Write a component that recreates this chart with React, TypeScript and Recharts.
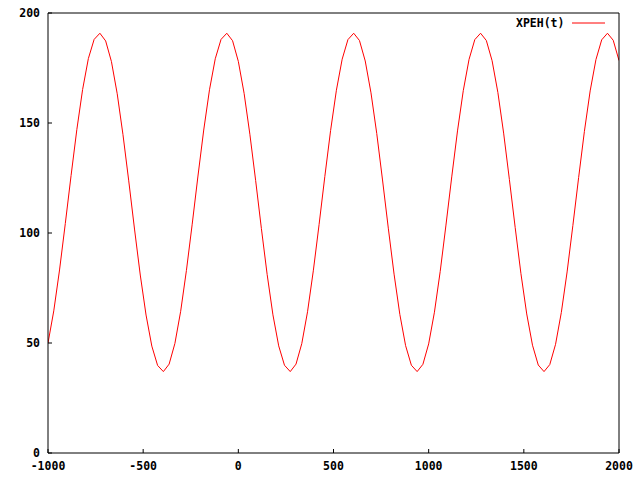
import React from 'react';
import { LineChart, Line, XAxis, YAxis } from 'recharts';

// sample positions (gnuplot default: 100 samples over the x range)
const xSamples = [
    -1000, -969.7, -939.4, -909.1, -878.8, -848.5, -818.2, -787.9, -757.6, -727.3,
    -697.0, -666.7, -636.4, -606.1, -575.8, -545.5, -515.2, -484.8, -454.5, -424.2,
    -393.9, -363.6, -333.3, -303.0, -272.7, -242.4, -212.1, -181.8, -151.5, -121.2,
    -90.9, -60.6, -30.3, 0, 30.3, 60.6, 90.9, 121.2, 151.5, 181.8,
    212.1, 242.4, 272.7, 303.0, 333.3, 363.6, 393.9, 424.2, 454.5, 484.8,
    515.2, 545.5, 575.8, 606.1, 636.4, 666.7, 697.0, 727.3, 757.6, 787.9,
    818.2, 848.5, 878.8, 909.1, 939.4, 969.7, 1000, 1030.3, 1060.6, 1090.9,
    1121.2, 1151.5, 1181.8, 1212.1, 1242.4, 1272.7, 1303.0, 1333.3, 1363.6, 1393.9,
    1424.2, 1454.5, 1484.8, 1515.2, 1545.5, 1575.8, 1606.1, 1636.4, 1666.7, 1697.0,
    1727.3, 1757.6, 1787.9, 1818.2, 1848.5, 1878.8, 1909.1, 1939.4, 1969.7, 2000,
];

// XPEH(t) values
const xpehValues = [
    50.0, 64.6, 83.2, 104.3, 126.1, 147.0, 165.2, 179.3, 188.0, 190.8,
    187.3, 177.9, 163.3, 144.7, 123.7, 101.8, 80.9, 62.7, 48.6, 39.8,
    37.0, 40.4, 49.8, 64.4, 83.0, 104.0, 125.9, 146.8, 165.1, 179.2,
    188.0, 190.8, 187.4, 178.0, 163.5, 144.9, 123.9, 102.0, 81.1, 62.8,
    48.7, 39.9, 37.0, 40.4, 49.7, 64.2, 82.8, 103.8, 125.7, 146.6,
    164.9, 179.0, 187.9, 190.8, 187.5, 178.2, 163.7, 145.2, 124.1, 102.2,
    81.3, 63.0, 48.8, 39.9, 37.0, 40.3, 49.6, 64.0, 82.5, 103.6,
    125.5, 146.4, 164.7, 178.9, 187.9, 190.8, 187.5, 178.3, 163.9, 145.4,
    124.3, 102.5, 81.5, 63.2, 49.0, 40.0, 37.0, 40.2, 49.4, 63.9,
    82.3, 103.4, 125.2, 146.2, 164.6, 178.8, 187.8, 190.8, 187.6, 178.4,
];

const xTicks = [-1000, -500, 0, 500, 1000, 1500, 2000];
const yTicks = [0, 50, 100, 150, 200];

const data = xSamples.map((t, i) => ({ t, v: xpehValues[i] }));

const font = { fontFamily: '"DejaVu Sans Mono", monospace', fontSize: 11.5, fontWeight: 'bold', fill: '#000' };

export default function App() {
    return (
        <div style={{ position: 'relative', width: 640, height: 480, background: '#fff' }}>
            <style>{'body{margin:0}'}</style>
            <LineChart width={640} height={480} data={data} margin={{ top: 0, right: 0, bottom: 0, left: 0 }}>
                <XAxis
                    dataKey="t" type="number" domain={[-1000, 2000]} ticks={xTicks}
                    height={27} stroke="#000" tickSize={-4} tickMargin={13}
                    tick={font} allowDataOverflow
                />
                <XAxis
                    xAxisId="top" orientation="top" dataKey="t" type="number" domain={[-1000, 2000]}
                    ticks={xTicks} height={13} stroke="#000" tickSize={-4} tick={false}
                />
                <YAxis
                    type="number" domain={[0, 200]} ticks={yTicks} width={48}
                    stroke="#000" tickSize={-4} tickMargin={12} tick={font}
                />
                <YAxis
                    yAxisId="right" orientation="right" type="number" domain={[0, 200]} ticks={yTicks}
                    width={21} stroke="#000" tickSize={-4} tick={false}
                />
                <Line
                    dataKey="v" type="linear" stroke="#ff0000" strokeWidth={1}
                    dot={false} isAnimationActive={false}
                />
            </LineChart>
            {/* key box, top right like gnuplot */}
            <div style={{
                position: 'absolute', top: 16, left: 516, display: 'flex', alignItems: 'center',
                fontFamily: font.fontFamily, fontSize: 11.5, fontWeight: 'bold', lineHeight: '14px',
            }}>
                <span>XPEH(t)</span>
                <svg width={34} height={10} style={{ marginLeft: 8 }}>
                    <line x1={0} y1={5} x2={33} y2={5} stroke="#ff0000" strokeWidth={1} />
                </svg>
            </div>
        </div>
    );
}
